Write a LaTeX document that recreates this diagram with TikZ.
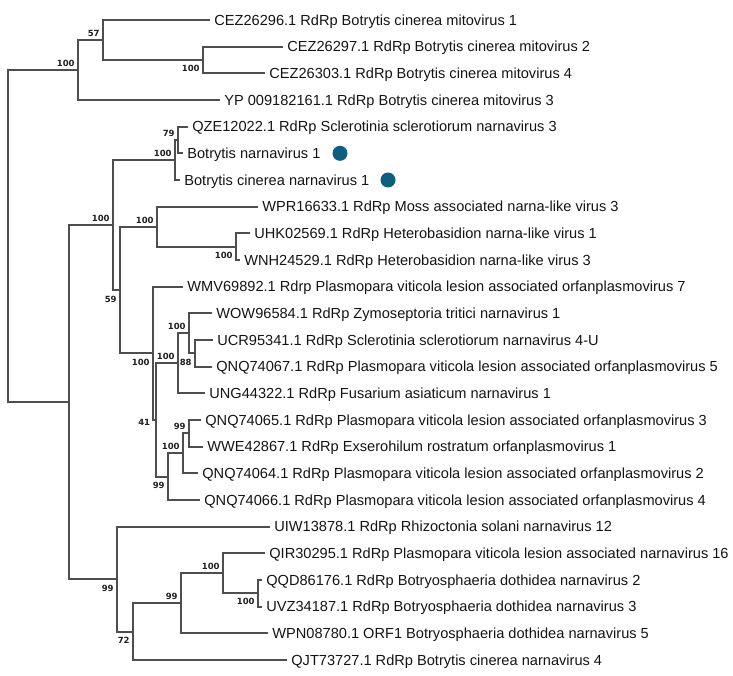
\documentclass[tikz,border=0pt]{standalone}
\usepackage{fontspec}
\setmainfont{Liberation Sans}
\newfontfamily\bootfont{DejaVu Sans}
\usetikzlibrary{positioning}
\definecolor{branchgray}{RGB}{78,78,78}
\definecolor{dotblue}{RGB}{14,94,128}

\begin{document}
\begin{tikzpicture}
        [x=1pt,y=-1pt,line width=1.7pt,
         branch/.style={draw=branchgray,to path={|- (\tikztotarget)}},
         leaf/.style={anchor=west,inner xsep=3.5pt,inner ysep=0pt,text height=10.4pt,text depth=0pt,
                      font=\fontsize{14.6}{16}\selectfont,text=black!92},
         boot/.style={inner sep=0pt,font=\bootfont\bfseries\fontsize{8.5}{8.5}\selectfont,text=black!88},
         virusdot/.style={circle,fill=dotblue,inner sep=0pt,minimum size=15pt}]
        \useasboundingbox (0,0) rectangle (733,676);

        % tips
        \node[leaf] (cez296) at (210,20) {CEZ26296.1 RdRp Botrytis cinerea mitovirus 1};
        \node[leaf] (cez297) at (283,46.67) {CEZ26297.1 RdRp Botrytis cinerea mitovirus 2};
        \node[leaf] (cez303) at (265,73.33) {CEZ26303.1 RdRp Botrytis cinerea mitovirus 4};
        \node[leaf] (yp161) at (220,100) {YP 009182161.1 RdRp Botrytis cinerea mitovirus 3};
        \node[leaf] (qze022) at (188,126.67) {QZE12022.1 RdRp Sclerotinia sclerotiorum narnavirus 3};
        \node[leaf] (bnv) at (183,153.33) {Botrytis narnavirus 1};
        \node[leaf] (bcnv) at (180,180) {Botrytis cinerea narnavirus 1};
        \node[leaf] (wpr633) at (258,206.67) {WPR16633.1 RdRp Moss associated narna-like virus 3};
        \node[leaf] (uhk569) at (250,233.33) {UHK02569.1 RdRp Heterobasidion narna-like virus 1};
        \node[leaf] (wnh529) at (240,260) {WNH24529.1 RdRp Heterobasidion narna-like virus 3};
        \node[leaf] (wmv892) at (183,286.67) {WMV69892.1 Rdrp Plasmopara viticola lesion associated orfanplasmovirus 7};
        \node[leaf] (wow584) at (212,313.33) {WOW96584.1 RdRp Zymoseptoria tritici narnavirus 1};
        \node[leaf] (ucr341) at (213,340) {UCR95341.1 RdRp Sclerotinia sclerotiorum narnavirus 4-U};
        \node[leaf] (qnq067) at (212,366.67) {QNQ74067.1 RdRp Plasmopara viticola lesion associated orfanplasmovirus 5};
        \node[leaf] (ung322) at (205,393.33) {UNG44322.1 RdRp Fusarium asiaticum narnavirus 1};
        \node[leaf] (qnq065) at (201,420) {QNQ74065.1 RdRp Plasmopara viticola lesion associated orfanplasmovirus 3};
        \node[leaf] (wwe867) at (203,446.67) {WWE42867.1 RdRp Exserohilum rostratum orfanplasmovirus 1};
        \node[leaf] (qnq064) at (198,473.33) {QNQ74064.1 RdRp Plasmopara viticola lesion associated orfanplasmovirus 2};
        \node[leaf] (qnq066) at (200,500) {QNQ74066.1 RdRp Plasmopara viticola lesion associated orfanplasmovirus 4};
        \node[leaf] (uiw878) at (270,526.67) {UIW13878.1 RdRp Rhizoctonia solani narnavirus 12};
        \node[leaf] (qir295) at (265,553.33) {QIR30295.1 RdRp Plasmopara viticola lesion associated narnavirus 16};
        \node[leaf] (qqd176) at (262,580) {QQD86176.1 RdRp Botryosphaeria dothidea narnavirus 2};
        \node[leaf] (uvz187) at (262,606.67) {UVZ34187.1 RdRp Botryosphaeria dothidea narnavirus 3};
        \node[leaf] (wpn780) at (268,633.33) {WPN08780.1 ORF1 Botryosphaeria dothidea narnavirus 5};
        \node[leaf] (qjt727) at (287,660) {QJT73727.1 RdRp Botrytis cinerea narnavirus 4};

        \node[virusdot] (dotbnv) at (340,153.33) {};
        \node[virusdot] (dotbcnv) at (388,180) {};

        % inner nodes
        \coordinate (root) at (8,236.1);
        \coordinate (mito) at (78,70);
        \coordinate (mitoa) at (103,40);
        \coordinate (mitob) at (203,60);
        \coordinate (narna) at (69,402.1);
        \coordinate (upper) at (113,225);
        \coordinate (botry) at (175,160);
        \coordinate (botrya) at (178,140);
        \coordinate (split) at (120,290);
        \coordinate (moss) at (157,226.67);
        \coordinate (hetero) at (236,246.67);
        \coordinate (orfan) at (153,353.33);
        \coordinate (orfana) at (156,420);
        \coordinate (zymo) at (178,363.33);
        \coordinate (zymoa) at (189,333.33);
        \coordinate (zymob) at (195,353.33);
        \coordinate (plasmo) at (168,476.67);
        \coordinate (plasmoa) at (183,453.33);
        \coordinate (plasmob) at (189,433.33);
        \coordinate (lower) at (117,579.2);
        \coordinate (lowera) at (133,631.67);
        \coordinate (dothi) at (181,603.33);
        \coordinate (dothia) at (223,573.33);
        \coordinate (dothib) at (258,593.33);

        % branches
        \path (root) edge[branch] (mito) edge[branch] (narna);
        \path (mito) edge[branch] (mitoa) edge[branch] (yp161);
        \path (mitoa) edge[branch] (cez296) edge[branch] (mitob);
        \path (mitob) edge[branch] (cez297) edge[branch] (cez303);
        \path (narna) edge[branch] (upper) edge[branch] (lower);
        \path (upper) edge[branch] (botry) edge[branch] (split);
        \path (botry) edge[branch] (botrya) edge[branch] (bcnv);
        \path (botrya) edge[branch] (qze022) edge[branch] (bnv);
        \path (split) edge[branch] (moss) edge[branch] (orfan);
        \path (moss) edge[branch] (wpr633) edge[branch] (hetero);
        \path (hetero) edge[branch] (uhk569) edge[branch] (wnh529);
        \path (orfan) edge[branch] (wmv892) edge[branch] (orfana);
        \path (orfana) edge[branch] (zymo) edge[branch] (plasmo);
        \path (zymo) edge[branch] (zymoa) edge[branch] (ung322);
        \path (zymoa) edge[branch] (wow584) edge[branch] (zymob);
        \path (zymob) edge[branch] (ucr341) edge[branch] (qnq067);
        \path (plasmo) edge[branch] (plasmoa) edge[branch] (qnq066);
        \path (plasmoa) edge[branch] (plasmob) edge[branch] (qnq064);
        \path (plasmob) edge[branch] (qnq065) edge[branch] (wwe867);
        \path (lower) edge[branch] (uiw878) edge[branch] (lowera);
        \path (lowera) edge[branch] (dothi) edge[branch] (qjt727);
        \path (dothi) edge[branch] (dothia) edge[branch] (wpn780);
        \path (dothia) edge[branch] (qir295) edge[branch] (dothib);
        \path (dothib) edge[branch] (qqd176) edge[branch] (uvz187);

        % bootstrap values
        \node[boot,above left=2.5pt and 2.5pt of mito] (bmito) {100};
        \node[boot,above left=2.5pt and 2.5pt of mitoa] (bmitoa) {57};
        \node[boot,below left=4.5pt and 2.5pt of mitob] (bmitob) {100};
        \node[boot,above left=2.5pt and 2.5pt of upper] (bupper) {100};
        \node[boot,above left=2.5pt and 2.5pt of botry] (bbotry) {100};
        \node[boot,above left=2.5pt and 2.5pt of botrya] (bbotrya) {79};
        \node[boot,below left=5.5pt and 2.5pt of split] (bsplit) {59};
        \node[boot,above left=2.5pt and 2.5pt of moss] (bmoss) {100};
        \node[boot,below left=4.5pt and 2.5pt of hetero] (bhetero) {100};
        \node[boot,below left=5pt and 2.5pt of orfan] (borfan) {100};
        \node[boot,left=5pt of orfana,yshift=-2pt] (borfana) {41};
        \node[boot,above left=2.5pt and 2.5pt of zymo] (bzymo) {100};
        \node[boot,above left=2.5pt and 2.5pt of zymoa] (bzymoa) {100};
        \node[boot,below left=5pt and 2.5pt of zymob] (bzymob) {88};
        \node[boot,below left=5pt and 2.5pt of plasmo] (bplasmo) {99};
        \node[boot,above left=2.5pt and 2.5pt of plasmoa] (bplasmoa) {100};
        \node[boot,above left=2.5pt and 2.5pt of plasmob] (bplasmob) {99};
        \node[boot,below left=5pt and 2.5pt of lower] (blower) {99};
        \node[boot,below left=5pt and 2.5pt of lowera] (blowera) {72};
        \node[boot,above left=2.5pt and 2.5pt of dothi] (bdothi) {99};
        \node[boot,above left=2.5pt and 2.5pt of dothia] (bdothia) {100};
        \node[boot,below left=4.5pt and 2.5pt of dothib] (bdothib) {100};

\end{tikzpicture}
\end{document}
